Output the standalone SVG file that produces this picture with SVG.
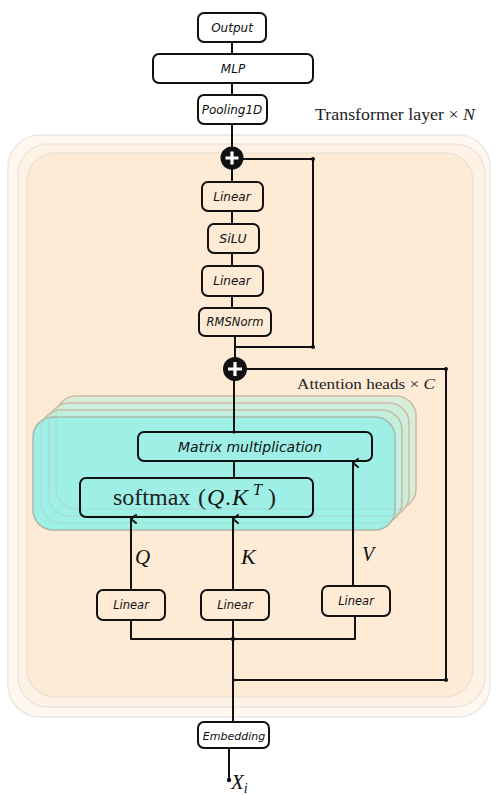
<svg xmlns="http://www.w3.org/2000/svg" width="498" height="795" viewBox="0 0 498 795">
<style>
.box{fill:#ffffff;stroke:#111;stroke-width:2}
.ibox{fill:none;stroke:#111;stroke-width:2}
.lbl{font-family:"DejaVu Sans",sans-serif;font-style:italic;fill:#111;text-anchor:middle}
.ln{fill:none;stroke:#111;stroke-width:2;stroke-linecap:round;stroke-linejoin:round}
.ser{font-family:"Liberation Serif","DejaVu Serif",serif;fill:#222}
.math{font-family:"Liberation Serif","DejaVu Serif",serif;font-style:italic;fill:#111}
.dot{fill:#111}
.ghost{fill:none;stroke:#b9b39c;stroke-width:1.2;stroke-opacity:0.35}
</style>
<defs>
<marker id="arr" viewBox="0 0 10 10" refX="5" refY="2" markerWidth="10" markerHeight="10" markerUnits="userSpaceOnUse" orient="auto-start-reverse">
<path d="M1,7 L5,2 L9,7" fill="none" stroke="#111" stroke-width="2" stroke-linecap="round" stroke-linejoin="round"/>
</marker>
</defs>
<rect width="498" height="795" fill="#ffffff"/>

<g id="transformer-stack">
<rect x="8" y="135" width="482" height="582" rx="32" fill="#fef8f1" stroke="#ece8e3" stroke-width="1.5"/>
<rect x="18" y="144" width="467" height="563" rx="30" fill="#fef2e5" stroke="#ebe5de" stroke-width="1.5"/>
<rect x="27" y="153" width="446" height="544" rx="28" fill="#fdebd6" stroke="#ebe2d6" stroke-width="1.5"/>
</g>
<text class="ser" x="315" y="120" font-size="16.5" textLength="160" lengthAdjust="spacingAndGlyphs">Transformer layer × <tspan font-style="italic">N</tspan></text>

<g id="attention-stack">
<rect x="56" y="396" width="360" height="113" rx="20" fill="#d7ecd9" stroke="#d6c2a6" stroke-width="1.5"/>
<rect x="49" y="403" width="360" height="113" rx="20" fill="#cdeedc" stroke="#d3c3aa" stroke-width="1.5"/>
<rect x="41" y="410" width="361" height="113" rx="20" fill="#c3efde" stroke="#cdc2ad" stroke-width="1.5"/>
<rect x="33" y="417" width="362" height="113" rx="20" fill="#9ef0e6" stroke="#a9b9ae" stroke-width="1.5"/>
<rect class="ghost" x="56" y="396" width="360" height="113" rx="20"/>
<rect class="ghost" x="49" y="403" width="360" height="113" rx="20"/>
<rect class="ghost" x="41" y="410" width="361" height="113" rx="20"/>
</g>
<text class="ser" x="297" y="389" font-size="15" textLength="138" lengthAdjust="spacingAndGlyphs">Attention heads × <tspan font-style="italic">C</tspan></text>

<g id="connectors">
<path class="ln" d="M232,42 V54"/>
<path class="ln" d="M232,83 V95"/>
<path class="ln" d="M232,124 V147"/>
<path class="ln" d="M232,169 V182"/>
<path class="ln" d="M232,211 V224"/>
<path class="ln" d="M232,253 V266"/>
<path class="ln" d="M232,296 V308"/>
<path class="ln" d="M235,336 V357"/>
<path class="ln" d="M243,159 H313 V347 H235"/>
<path class="ln" d="M247,369 H446 V680 H234"/>
<path class="ln" d="M234,380 V432"/>
<path class="ln" d="M234,461 V478"/>
<path class="ln" d="M131,590 V519" marker-end="url(#arr)"/>
<path class="ln" d="M233,590 V519" marker-end="url(#arr)"/>
<path class="ln" d="M353,586 V463" marker-end="url(#arr)"/>
<path class="ln" d="M131,620 V639 H355 V616"/>
<path class="ln" d="M233,620 V722"/>
<path class="ln" d="M229,748 V780"/>
<circle class="dot" cx="313" cy="159" r="2"/>
<circle class="dot" cx="313" cy="347" r="2"/>
<circle class="dot" cx="446" cy="369" r="2"/>
<circle class="dot" cx="446" cy="680" r="2"/>
<circle class="dot" cx="233" cy="639" r="2.2"/>
<circle class="dot" cx="234" cy="680" r="1.6"/>
<circle class="dot" cx="229" cy="780" r="2.2"/>
<circle class="dot" cx="234" cy="432" r="1.6"/>
</g>

<g id="output"><rect class="box" x="198" y="13" width="68" height="29" rx="6"/><text class="lbl" x="232" y="32" font-size="12">Output</text></g>
<g id="mlp"><rect class="box" x="153" y="54" width="160" height="29" rx="6"/><text class="lbl" x="233" y="73" font-size="12">MLP</text></g>
<g id="pooling"><rect class="box" x="198" y="95" width="69" height="29" rx="6"/><text class="lbl" x="232" y="114" font-size="12">Pooling1D</text></g>

<g id="add1"><circle cx="232" cy="158" r="11.5" fill="#111"/><path d="M232,151.5 V164.5 M225.5,158 H238.5" stroke="#fff" stroke-width="3.2"/></g>
<g id="linear-ffn1"><rect class="ibox" x="202" y="182" width="61" height="29" rx="6"/><text class="lbl" x="232" y="201" font-size="12">Linear</text></g>
<g id="silu"><rect class="ibox" x="208" y="224" width="51" height="29" rx="6"/><text class="lbl" x="233" y="243" font-size="12.5">SiLU</text></g>
<g id="linear-ffn2"><rect class="ibox" x="202" y="266" width="61" height="30" rx="6"/><text class="lbl" x="232" y="285" font-size="12">Linear</text></g>
<g id="rmsnorm"><rect class="ibox" x="199" y="308" width="72" height="28" rx="6"/><text class="lbl" x="235" y="326" font-size="11.5">RMSNorm</text></g>
<g id="add2"><circle cx="235" cy="369" r="12" fill="#111"/><path d="M235,362 V376 M228,369 H242" stroke="#fff" stroke-width="3.2"/></g>

<g id="matmul"><rect class="ibox" x="138" y="432" width="234" height="29" rx="6"/><text class="lbl" x="250" y="452" font-size="14">Matrix multiplication</text></g>
<g id="softmax"><rect class="ibox" x="80" y="478" width="233" height="39" rx="6"/>
<text class="ser" x="113" y="505" font-size="24" fill="#111">softmax</text>
<text class="ser" x="198" y="505" font-size="24" fill="#111">(</text>
<text class="math" x="207" y="505" font-size="24">Q</text>
<text class="ser" x="225" y="505" font-size="24" fill="#111">.</text>
<text class="math" x="232" y="505" font-size="24">K</text>
<text class="math" x="253" y="495" font-size="16">T</text>
<text class="ser" x="268" y="505" font-size="24" fill="#111">)</text>
</g>

<text class="math" x="135" y="564" font-size="21">Q</text>
<text class="math" x="241" y="564" font-size="22">K</text>
<text class="math" x="362" y="561" font-size="20">V</text>

<g id="linear-q"><rect class="ibox" x="97" y="590" width="68" height="30" rx="6"/><text class="lbl" x="131" y="609" font-size="11.5">Linear</text></g>
<g id="linear-k"><rect class="ibox" x="201" y="590" width="68" height="30" rx="6"/><text class="lbl" x="235" y="609" font-size="11.5">Linear</text></g>
<g id="linear-v"><rect class="ibox" x="322" y="586" width="68" height="30" rx="6"/><text class="lbl" x="356" y="605" font-size="11.5">Linear</text></g>

<g id="embedding"><rect class="box" x="198" y="722" width="71" height="26" rx="6"/><text class="lbl" x="234" y="740" font-size="11">Embedding</text></g>
<text class="math" x="231" y="789" font-size="21">X<tspan font-size="14" dy="4">i</tspan></text>
</svg>
